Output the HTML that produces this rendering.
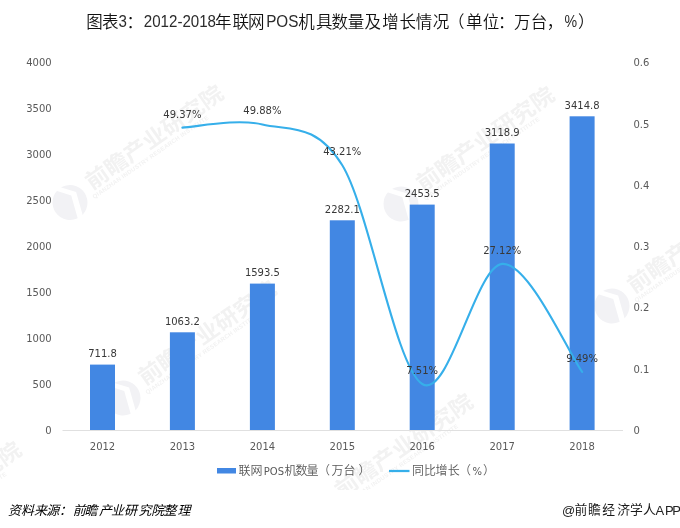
<!DOCTYPE html><html><head><meta charset="utf-8"><style>html,body{margin:0;padding:0;background:#fff;width:680px;height:528px;overflow:hidden}svg{display:block}text{font-family:'DejaVu Sans','Noto Sans CJK SC',sans-serif}</style></head><body>
<svg width="680" height="528" viewBox="0 0 680 528">
<rect width="680" height="528" fill="#fff"/>
<g>
<g transform="translate(70.0,202.5) rotate(-35)">
<circle cx="0" cy="0" r="17.5" fill="#f2f2f5"/>
<path d="M-5,-18 L5,-5 L-3,18 L3,18 L11,-5 L1,-18 Z" fill="#fff"/>
<text x="25" y="2.5" font-size="21.5" fill="#f2f2f2" style="font-family:'Noto Sans CJK SC',sans-serif;font-weight:700" textLength="163" lengthAdjust="spacingAndGlyphs">前瞻产业研究院</text>
<text x="22" y="11" font-size="6" fill="#f2f2f2" style="font-family:'Liberation Sans','Noto Sans CJK SC',sans-serif;font-weight:700" textLength="140" lengthAdjust="spacing">QIANZHAN INDUSTRY RESEARCH INSTITUTE</text>
</g>
<g transform="translate(401.0,204.0) rotate(-35)">
<circle cx="0" cy="0" r="17.5" fill="#f2f2f5"/>
<path d="M-5,-18 L5,-5 L-3,18 L3,18 L11,-5 L1,-18 Z" fill="#fff"/>
<text x="25" y="2.5" font-size="21.5" fill="#f2f2f2" style="font-family:'Noto Sans CJK SC',sans-serif;font-weight:700" textLength="163" lengthAdjust="spacingAndGlyphs">前瞻产业研究院</text>
<text x="22" y="11" font-size="6" fill="#f2f2f2" style="font-family:'Liberation Sans','Noto Sans CJK SC',sans-serif;font-weight:700" textLength="140" lengthAdjust="spacing">QIANZHAN INDUSTRY RESEARCH INSTITUTE</text>
</g>
<g transform="translate(612.0,306.0) rotate(-35)">
<circle cx="0" cy="0" r="17.5" fill="#f2f2f5"/>
<path d="M-5,-18 L5,-5 L-3,18 L3,18 L11,-5 L1,-18 Z" fill="#fff"/>
<text x="25" y="2.5" font-size="21.5" fill="#f2f2f2" style="font-family:'Noto Sans CJK SC',sans-serif;font-weight:700" textLength="163" lengthAdjust="spacingAndGlyphs">前瞻产业研究院</text>
<text x="22" y="11" font-size="6" fill="#f2f2f2" style="font-family:'Liberation Sans','Noto Sans CJK SC',sans-serif;font-weight:700" textLength="140" lengthAdjust="spacing">QIANZHAN INDUSTRY RESEARCH INSTITUTE</text>
</g>
<g transform="translate(123.0,398.0) rotate(-35)">
<circle cx="0" cy="0" r="17.5" fill="#f2f2f5"/>
<path d="M-5,-18 L5,-5 L-3,18 L3,18 L11,-5 L1,-18 Z" fill="#fff"/>
<text x="25" y="2.5" font-size="21.5" fill="#f2f2f2" style="font-family:'Noto Sans CJK SC',sans-serif;font-weight:700" textLength="163" lengthAdjust="spacingAndGlyphs">前瞻产业研究院</text>
<text x="22" y="11" font-size="6" fill="#f2f2f2" style="font-family:'Liberation Sans','Noto Sans CJK SC',sans-serif;font-weight:700" textLength="140" lengthAdjust="spacing">QIANZHAN INDUSTRY RESEARCH INSTITUTE</text>
</g>
<g transform="translate(319.5,511.0) rotate(-35)">
<circle cx="0" cy="0" r="17.5" fill="#f2f2f5"/>
<path d="M-5,-18 L5,-5 L-3,18 L3,18 L11,-5 L1,-18 Z" fill="#fff"/>
<text x="25" y="2.5" font-size="21.5" fill="#f2f2f2" style="font-family:'Noto Sans CJK SC',sans-serif;font-weight:700" textLength="163" lengthAdjust="spacingAndGlyphs">前瞻产业研究院</text>
<text x="22" y="11" font-size="6" fill="#f2f2f2" style="font-family:'Liberation Sans','Noto Sans CJK SC',sans-serif;font-weight:700" textLength="140" lengthAdjust="spacing">QIANZHAN INDUSTRY RESEARCH INSTITUTE</text>
</g>
<g transform="translate(-132.0,559.0) rotate(-35)">
<circle cx="0" cy="0" r="17.5" fill="#f2f2f5"/>
<path d="M-5,-18 L5,-5 L-3,18 L3,18 L11,-5 L1,-18 Z" fill="#fff"/>
<text x="25" y="2.5" font-size="21.5" fill="#f2f2f2" style="font-family:'Noto Sans CJK SC',sans-serif;font-weight:700" textLength="163" lengthAdjust="spacingAndGlyphs">前瞻产业研究院</text>
<text x="22" y="11" font-size="6" fill="#f2f2f2" style="font-family:'Liberation Sans','Noto Sans CJK SC',sans-serif;font-weight:700" textLength="140" lengthAdjust="spacing">QIANZHAN INDUSTRY RESEARCH INSTITUTE</text>
</g>
</g>
<rect x="0" y="490" width="680" height="38" fill="#fff"/>
<text x="86.3 102.0" y="27.6" font-size="16.5" fill="#111" style="font-family:'Noto Sans CJK SC',sans-serif;font-weight:350;font-style:normal">图表</text>
<text x="118.6" y="26.9" font-size="16.5" fill="#2b2b2b" style="font-family:'Liberation Sans','Noto Sans CJK SC',sans-serif" textLength="8.4" lengthAdjust="spacingAndGlyphs">3</text>
<text x="126.4" y="27.6" font-size="16.5" fill="#111" style="font-family:'Noto Sans CJK SC',sans-serif;font-weight:350;font-style:normal">：</text>
<text x="143.8" y="26.9" font-size="16.5" fill="#2b2b2b" style="font-family:'Liberation Sans','Noto Sans CJK SC',sans-serif" textLength="72.2" lengthAdjust="spacingAndGlyphs">2012-2018</text>
<text x="214.9 232.5 248.0" y="27.6" font-size="16.5" fill="#111" style="font-family:'Noto Sans CJK SC',sans-serif;font-weight:350;font-style:normal">年联网</text>
<text x="266.2" y="26.9" font-size="16.5" fill="#2b2b2b" style="font-family:'Liberation Sans','Noto Sans CJK SC',sans-serif" textLength="32.2" lengthAdjust="spacingAndGlyphs">POS</text>
<text x="298.3 316.0 331.5 347.7 364.6 382.2 399.6 415.8 432.7 448.0 466.1 482.8 497.9 514.0 530.7 546.7" y="27.6" font-size="16.5" fill="#111" style="font-family:'Noto Sans CJK SC',sans-serif;font-weight:350;font-style:normal">机具数量及增长情况（单位：万台，</text>
<text x="564.6" y="26.9" font-size="16.5" fill="#2b2b2b" style="font-family:'Liberation Sans','Noto Sans CJK SC',sans-serif" textLength="12.6" lengthAdjust="spacingAndGlyphs">%</text>
<text x="578.0" y="27.6" font-size="16.5" fill="#111" style="font-family:'Noto Sans CJK SC',sans-serif;font-weight:350;font-style:normal">）</text>
<text x="51.7" y="433.9" font-size="10" fill="#595959" text-anchor="end">0</text>
<text x="51.7" y="388.0" font-size="10" fill="#595959" text-anchor="end">500</text>
<text x="51.7" y="342.0" font-size="10" fill="#595959" text-anchor="end">1000</text>
<text x="51.7" y="296.1" font-size="10" fill="#595959" text-anchor="end">1500</text>
<text x="51.7" y="250.2" font-size="10" fill="#595959" text-anchor="end">2000</text>
<text x="51.7" y="204.2" font-size="10" fill="#595959" text-anchor="end">2500</text>
<text x="51.7" y="158.3" font-size="10" fill="#595959" text-anchor="end">3000</text>
<text x="51.7" y="112.3" font-size="10" fill="#595959" text-anchor="end">3500</text>
<text x="51.7" y="66.4" font-size="10" fill="#595959" text-anchor="end">4000</text>
<text x="633.5" y="433.9" font-size="10" fill="#595959">0</text>
<text x="633.5" y="372.6" font-size="10" fill="#595959">0.1</text>
<text x="633.5" y="311.4" font-size="10" fill="#595959">0.2</text>
<text x="633.5" y="250.2" font-size="10" fill="#595959">0.3</text>
<text x="633.5" y="188.9" font-size="10" fill="#595959">0.4</text>
<text x="633.5" y="127.7" font-size="10" fill="#595959">0.5</text>
<text x="633.5" y="66.4" font-size="10" fill="#595959">0.6</text>
<line x1="62.5" y1="430.5" x2="623" y2="430.5" stroke="#E0E0E0" stroke-width="1"/>
<rect x="90.0" y="364.6" width="25" height="65.4" fill="#4287E3"/>
<text x="102.5" y="357.2" font-size="10" fill="#383838" text-anchor="middle">711.8</text>
<text x="102.5" y="450.2" font-size="10" fill="#595959" text-anchor="middle">2012</text>
<rect x="169.9" y="332.3" width="25" height="97.7" fill="#4287E3"/>
<text x="182.4" y="324.9" font-size="10" fill="#383838" text-anchor="middle">1063.2</text>
<text x="182.4" y="450.2" font-size="10" fill="#595959" text-anchor="middle">2013</text>
<rect x="249.9" y="283.6" width="25" height="146.4" fill="#4287E3"/>
<text x="262.4" y="276.2" font-size="10" fill="#383838" text-anchor="middle">1593.5</text>
<text x="262.4" y="450.2" font-size="10" fill="#595959" text-anchor="middle">2014</text>
<rect x="329.8" y="220.3" width="25" height="209.7" fill="#4287E3"/>
<text x="342.3" y="212.9" font-size="10" fill="#383838" text-anchor="middle">2282.1</text>
<text x="342.3" y="450.2" font-size="10" fill="#595959" text-anchor="middle">2015</text>
<rect x="409.7" y="204.6" width="25" height="225.4" fill="#4287E3"/>
<text x="422.2" y="197.2" font-size="10" fill="#383838" text-anchor="middle">2453.5</text>
<text x="422.2" y="450.2" font-size="10" fill="#595959" text-anchor="middle">2016</text>
<rect x="489.7" y="143.5" width="25" height="286.5" fill="#4287E3"/>
<text x="502.2" y="136.1" font-size="10" fill="#383838" text-anchor="middle">3118.9</text>
<text x="502.2" y="450.2" font-size="10" fill="#595959" text-anchor="middle">2017</text>
<rect x="569.6" y="116.3" width="25" height="313.7" fill="#4287E3"/>
<text x="582.1" y="108.9" font-size="10" fill="#383838" text-anchor="middle">3414.8</text>
<text x="582.1" y="450.2" font-size="10" fill="#595959" text-anchor="middle">2018</text>
<path d="M182.4,127.6 C195.8,127.1 235.7,118.2 262.4,124.5 C289.0,130.8 315.6,122.1 342.3,165.3 C368.9,208.6 395.6,367.6 422.2,384.0 C448.9,400.4 475.5,265.9 502.2,263.9 C528.8,261.9 568.8,353.9 582.1,371.9" fill="none" stroke="#36AFEA" stroke-width="2.1" stroke-linecap="round"/>
<text x="182.4" y="117.6" font-size="10" fill="#383838" text-anchor="middle">49.37%</text>
<text x="262.4" y="114.4" font-size="10" fill="#383838" text-anchor="middle">49.88%</text>
<text x="342.3" y="155.3" font-size="10" fill="#383838" text-anchor="middle">43.21%</text>
<text x="422.2" y="374.0" font-size="10" fill="#383838" text-anchor="middle">7.51%</text>
<text x="502.2" y="253.8" font-size="10" fill="#383838" text-anchor="middle">27.12%</text>
<text x="582.1" y="361.8" font-size="10" fill="#383838" text-anchor="middle">9.49%</text>
<rect x="217" y="468" width="19" height="5.5" fill="#4287E3"/>
<text x="238.6 250.5" y="475" font-size="12" fill="#595959" style="font-family:'Noto Sans CJK SC',sans-serif;font-weight:350;font-style:normal">联网</text>
<text x="263.8" y="475" font-size="10" fill="#595959" style="font-family:'DejaVu Sans','Noto Sans CJK SC',sans-serif">POS</text>
<text x="284.4 295.5 306.4 317.9 331.6 343.4 358.4" y="475" font-size="12" fill="#595959" style="font-family:'Noto Sans CJK SC',sans-serif;font-weight:350;font-style:normal">机数量（万台）</text>
<line x1="389" y1="471" x2="409.5" y2="471" stroke="#36AFEA" stroke-width="2.25"/>
<text x="412.0 424.1 435.4 447.8 459.0" y="475" font-size="12" fill="#595959" style="font-family:'Noto Sans CJK SC',sans-serif;font-weight:350;font-style:normal">同比增长（</text>
<text x="472.5" y="475" font-size="10" fill="#595959" style="font-family:'DejaVu Sans','Noto Sans CJK SC',sans-serif">%</text>
<text x="483.1" y="475" font-size="12" fill="#595959" style="font-family:'Noto Sans CJK SC',sans-serif;font-weight:350;font-style:normal">）</text>
<text x="8.1 21.0 33.9 46.2 59.1 72.8 84.6 99.0 110.9 124.0 138.4 151.3 163.6 177.6" y="515" font-size="13" fill="#000" style="font-family:'Noto Sans CJK SC',sans-serif;font-weight:400;font-style:italic">资料来源：前瞻产业研究院整理</text>
<text x="562" y="514.8" font-size="13" fill="#222" style="font-family:'Liberation Sans','Noto Sans CJK SC',sans-serif">@</text>
<text x="574.5 587.9 602.3 617.2 630.1 643.0" y="514.0" font-size="12.8" fill="#1a1a1a" style="font-family:'Noto Sans CJK SC',sans-serif;font-weight:400;font-style:normal">前瞻经济学人</text>
<text x="655.6 665 672.2" y="514.8" font-size="13" fill="#222" style="font-family:'Liberation Sans','Noto Sans CJK SC',sans-serif">APP</text>
</svg></body></html>
